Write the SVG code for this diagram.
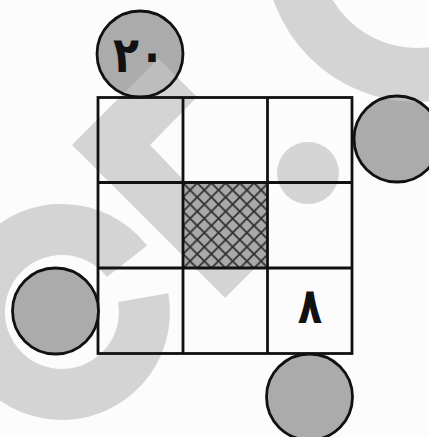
<svg xmlns="http://www.w3.org/2000/svg" xmlns:xlink="http://www.w3.org/1999/xlink" width="429" height="437" viewBox="0 0 429 437">
  <style>
    .line { stroke: #111; stroke-width: 2.8; fill: none; }
    .disc { fill: #ababab; }
    .ring { fill: none; stroke: #111; stroke-width: 2.8; }
    .num { font-family: "DejaVu Sans", "Noto Sans", sans-serif; font-weight: bold; fill: #111; text-anchor: middle; }
  </style>
  <defs>
    <pattern id="hatch" patternUnits="userSpaceOnUse" x="183" y="183" width="14.2" height="14.2">
      <rect width="14.2" height="14.2" fill="#a9a9a9"/>
      <path d="M-1,-1 L15.2,15.2 M15.2,-1 L-1,15.2" stroke="#2e2e2e" stroke-width="1.8" fill="none"/>
    </pattern>
    <g id="wm" opacity="0.7">
      <circle cx="417" cy="-50" r="125" fill="none" stroke="#c4c4c4" stroke-width="54"/>
      <path d="M143.2,297.7 A82.5,82.5 0 1 1 127,261.2" fill="none" stroke="#c4c4c4" stroke-width="51"/>
      <polygon points="72,145 158.5,58.5 197,97 150,145 261.5,261.5 225,298" fill="#c4c4c4"/>
      <circle cx="308" cy="173" r="31" fill="#c4c4c4"/>
    </g>
    <clipPath id="cTop"><circle cx="140" cy="54" r="43"/></clipPath>
    <clipPath id="cRight"><circle cx="397" cy="139" r="43"/></clipPath>
    <clipPath id="cLeft"><circle cx="55.5" cy="311" r="43"/></clipPath>
    <clipPath id="cBottom"><circle cx="309.5" cy="397" r="43"/></clipPath>
  </defs>

  <rect width="429" height="437" fill="#fcfcfc"/>
  <use xlink:href="#wm"/>

  <g id="center-cell">
    <rect x="183" y="183" width="84.5" height="85" fill="url(#hatch)"/>
  </g>

  <g id="grid">
    <rect class="line" x="98" y="97.5" width="254" height="256"/>
    <line class="line" x1="183" y1="97.5" x2="183" y2="353.5"/>
    <line class="line" x1="267.5" y1="97.5" x2="267.5" y2="353.5"/>
    <line class="line" x1="98" y1="182.5" x2="352" y2="182.5"/>
    <line class="line" x1="98" y1="268" x2="352" y2="268"/>
  </g>

  <g id="cell-8">
    <text class="num" font-size="50" transform="translate(310,323) scale(0.8,1)">۸</text>
  </g>

  <g id="circle-top">
    <circle class="disc" cx="140" cy="54" r="43"/>
    <use xlink:href="#wm" clip-path="url(#cTop)"/>
    <circle class="ring" cx="140" cy="54" r="43"/>
    <text class="num" font-size="50" letter-spacing="-6" transform="translate(139,72) scale(0.85,1)">۲۰</text>
  </g>

  <g id="circle-right">
    <circle class="disc" cx="397" cy="139" r="43"/>
    <use xlink:href="#wm" clip-path="url(#cRight)"/>
    <circle class="ring" cx="397" cy="139" r="43"/>
  </g>

  <g id="circle-left">
    <circle class="disc" cx="55.5" cy="311" r="43"/>
    <use xlink:href="#wm" clip-path="url(#cLeft)"/>
    <circle class="ring" cx="55.5" cy="311" r="43"/>
  </g>

  <g id="circle-bottom">
    <circle class="disc" cx="309.5" cy="397" r="43"/>
    <use xlink:href="#wm" clip-path="url(#cBottom)"/>
    <circle class="ring" cx="309.5" cy="397" r="43"/>
  </g>

  <g id="connectors"/>
</svg>
